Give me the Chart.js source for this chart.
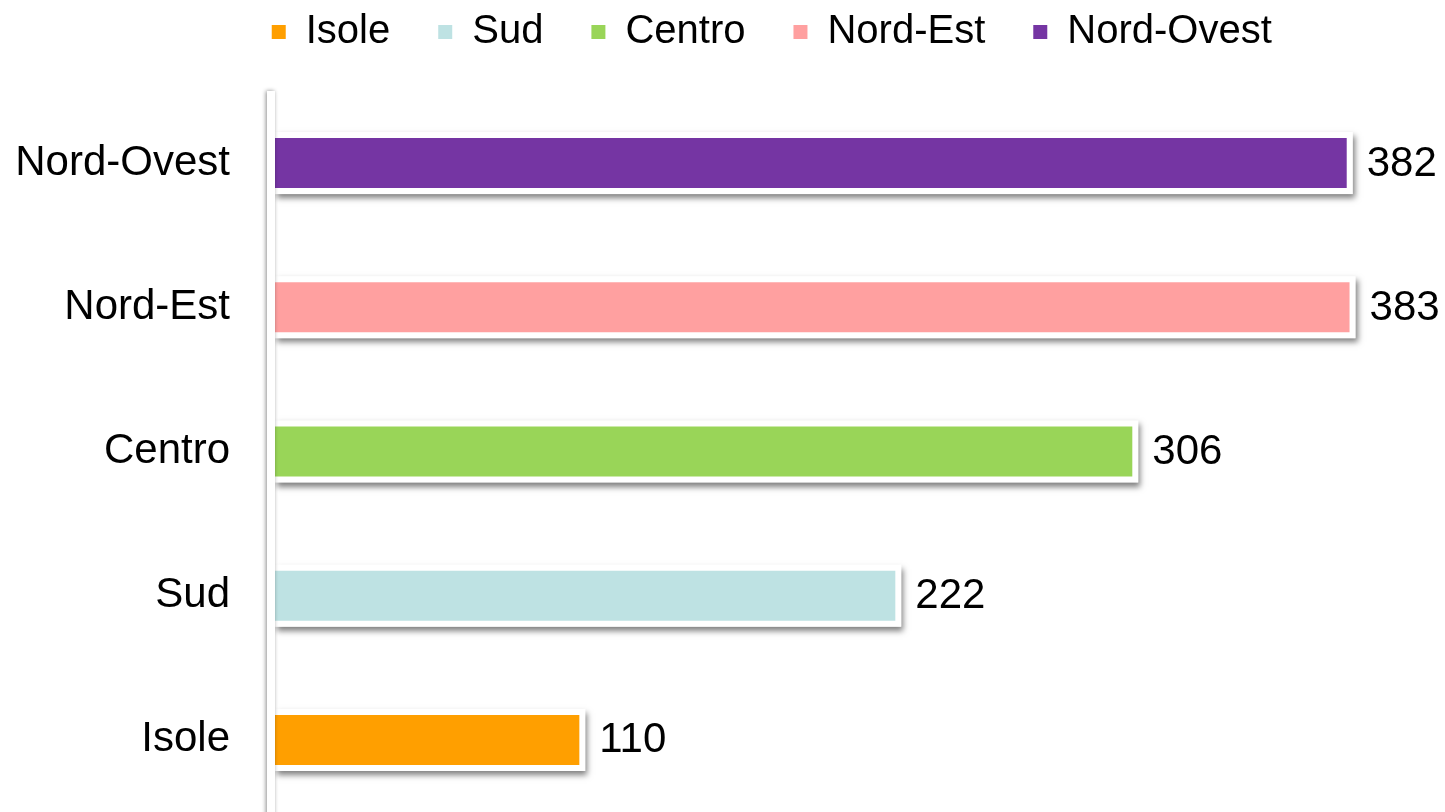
<!DOCTYPE html>
<html lang="it">
<head>
<meta charset="UTF-8">
<title>Ripartizioni</title>
<script src="https://cdn.jsdelivr.net/npm/chart.js"></script>
<style>
  body { margin: 0; background: #fff; }
  .wrap { width: 1445px; height: 812px; }
</style>
</head>
<body>
<div class="wrap"><canvas id="chart"></canvas></div>
<script>
// categories top to bottom, with their values
const categories = ['Nord-Ovest', 'Nord-Est', 'Centro', 'Sud', 'Isole'];
const values = [382, 383, 306, 222, 110];
// legend order and colours
const seriesNames = ['Isole', 'Sud', 'Centro', 'Nord-Est', 'Nord-Ovest'];
const seriesColors = ['#ff9f00', '#bee2e3', '#99d558', '#ffa0a0', '#7535a3'];

const FONT = "'Liberation Sans', Arial, sans-serif";

const datasets = seriesNames.map((name, i) => ({
    label: name,
    data: categories.map((c, j) => c === name ? values[j] : null),
    backgroundColor: seriesColors[i],
    borderColor: '#fff',
    borderWidth: 6,
    borderSkipped: 'start',
    categoryPercentage: 1,
    barPercentage: 0.43
}));

function eachBar(chart, fn) {
    chart.data.datasets.forEach((ds, di) => {
        chart.getDatasetMeta(di).data.forEach((bar, i) => {
            if (ds.data[i] == null) return;
            fn(bar.getProps(['x', 'y', 'base', 'height'], true), ds.data[i]);
        });
    });
}

// legend is centred a bit right of the canvas middle in the original
const legendShift = {
    id: 'legendShift',
    afterLayout(chart) {
        chart.legend.left += 70;
        chart.legend.right += 70;
    }
};

// soft shadow under each bar
const barShadow = {
    id: 'barShadow',
    beforeDatasetsDraw(chart) {
        const ctx = chart.ctx;
        ctx.save();
        ctx.shadowColor = 'rgba(0,0,0,0.5)';
        ctx.shadowBlur = 6;
        ctx.shadowOffsetX = 2;
        ctx.shadowOffsetY = 4;
        ctx.fillStyle = '#fff';
        eachBar(chart, b => ctx.fillRect(b.base, b.y - b.height / 2, b.x - b.base, b.height));
        ctx.restore();
    }
};

// white axis line on top of the bars + value labels
const axisAndLabels = {
    id: 'axisAndLabels',
    afterDatasetsDraw(chart) {
        const ctx = chart.ctx;
        const area = chart.chartArea;
        ctx.save();
        ctx.shadowColor = 'rgba(0,0,0,0.45)';
        ctx.shadowBlur = 4;
        ctx.shadowOffsetX = -1;
        ctx.fillStyle = '#fff';
        ctx.fillRect(area.left - 8, area.top, 8, area.bottom - area.top + 10);
        ctx.restore();

        ctx.save();
        ctx.font = '42px ' + FONT;
        ctx.fillStyle = '#000';
        ctx.textAlign = 'left';
        ctx.textBaseline = 'middle';
        eachBar(chart, (b, v) => ctx.fillText(String(v), b.x + 14, b.y + 1));
        ctx.restore();
    }
};

new Chart(document.getElementById('chart'), {
    type: 'bar',
    data: { labels: categories, datasets: datasets },
    options: {
        indexAxis: 'y',
        responsive: true,
        maintainAspectRatio: false,
        animation: false,
        layout: { padding: { top: -36, left: 0, right: 41.5, bottom: 0 } },
        scales: {
            x: {
                position: 'top',
                stacked: true,
                min: 0,
                max: 400,
                ticks: { display: false },
                grid: { display: false },
                border: { display: false },
                afterFit: s => { s.height = 29; }
            },
            y: {
                stacked: true,
                grid: { display: false, drawTicks: false },
                border: { display: false },
                ticks: { color: '#000', padding: 45, font: { family: FONT, size: 42 } },
                afterFit: s => {
                    s.width = 275;
                    s.paddingTop = 0;
                    s.paddingBottom = 0;
                }
            }
        },
        plugins: {
            legend: {
                position: 'top',
                labels: {
                    color: '#000',
                    boxWidth: 14,
                    boxHeight: 14,
                    padding: 48,
                    font: { family: FONT, size: 40 },
                    generateLabels: chart => Chart.defaults.plugins.legend.labels.generateLabels(chart)
                        .map(l => Object.assign(l, { strokeStyle: l.fillStyle, lineWidth: 0 }))
                }
            },
            tooltip: { enabled: false }
        }
    },
    plugins: [legendShift, barShadow, axisAndLabels]
});
</script>
</body>
</html>
